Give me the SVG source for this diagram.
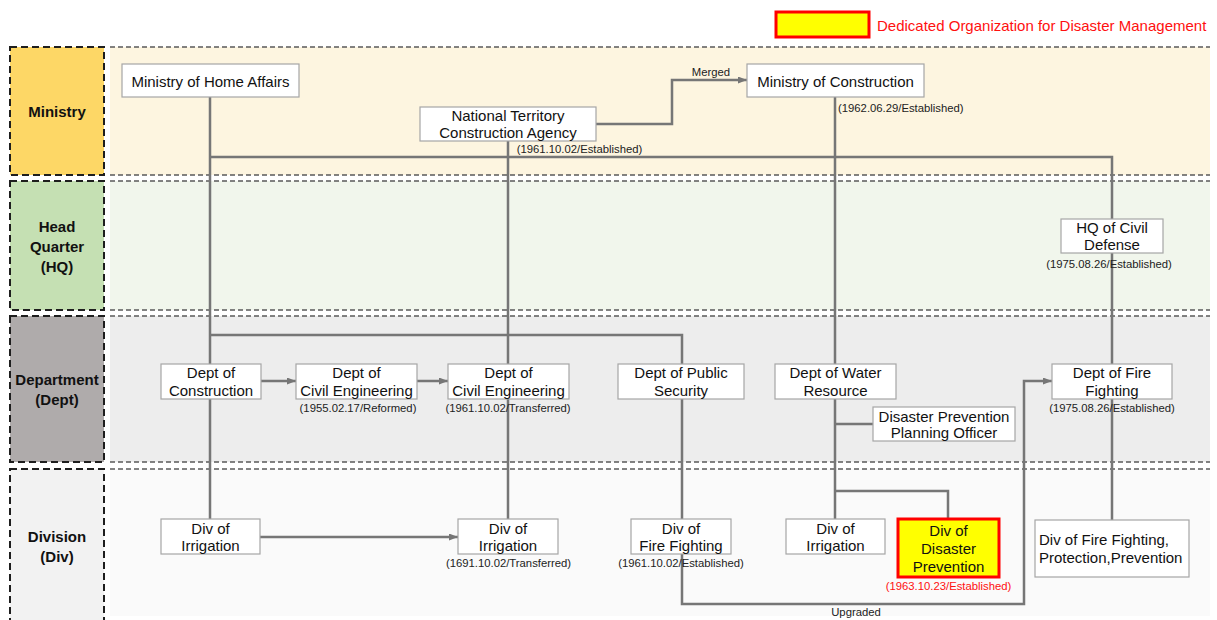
<svg xmlns="http://www.w3.org/2000/svg" width="1217" height="620" viewBox="0 0 1217 620">
  <defs>
    <style>
      .band-line { stroke: #5a5a5a; stroke-width: 1.6; stroke-dasharray: 5 3; fill: none; }
      .tier { stroke: #1e1e1e; stroke-width: 2; stroke-dasharray: 7 4; }
      .tier-text { font-family: "Liberation Sans", Arial, sans-serif; font-size: 15px; font-weight: bold; fill: #111; text-anchor: middle; }
      .box { fill: #ffffff; stroke: #a6a6a6; stroke-width: 1.2; }
      .hot { fill: #ffff00; stroke: #ff0000; stroke-width: 3; }
      .lbl { font-family: "Liberation Sans", Arial, sans-serif; font-size: 15px; fill: #111; text-anchor: middle; }
      .date { font-family: "Liberation Sans", Arial, sans-serif; font-size: 11.3px; fill: #222; text-anchor: middle; }
      .start { text-anchor: start; }
      .red { fill: #ff1010; }
      .conn { stroke: #767676; stroke-width: 2.5; fill: none; }
      .arrow { stroke: #767676; stroke-width: 2.5; fill: none; marker-end: url(#ah); }
    </style>
    <marker id="ah" markerUnits="userSpaceOnUse" markerWidth="9" markerHeight="7" refX="9" refY="3.5" orient="auto">
      <path d="M0,0 L9,3.5 L0,7 z" fill="#767676"/>
    </marker>
  </defs>

  <rect width="1217" height="620" fill="#ffffff"/>

  <!-- legend -->
  <g id="legend">
    <rect x="776" y="12" width="93" height="25" class="hot" stroke-width="2.5"/>
    <text x="877" y="31" font-family="Liberation Sans, Arial, sans-serif" font-size="15" fill="#ff1010">Dedicated Organization for Disaster Management</text>
  </g>

  <!-- tier bands -->
  <g id="bands">
    <rect x="110" y="47" width="1100" height="128" fill="#fdf5e0"/>
    <rect x="110" y="181" width="1100" height="129" fill="#f1f6ec"/>
    <rect x="110" y="316" width="1100" height="146" fill="#ededed"/>
    <rect x="110" y="469" width="1100" height="147" fill="#fafafa"/>
    <path class="band-line" d="M110,47 H1210 M110,175 H1210 M110,181 H1210 M110,310 H1210 M110,316 H1210 M110,462 H1210 M110,469 H1210"/>
  </g>

  <!-- tier labels -->
  <g id="tier-ministry">
    <rect x="10" y="47" width="94" height="128" fill="#fdd766" class="tier"/>
    <text class="tier-text" x="57" y="117">Ministry</text>
  </g>
  <g id="tier-hq">
    <rect x="10" y="181" width="94" height="129" fill="#c5e0b3" class="tier"/>
    <text class="tier-text" x="57" y="232">Head</text>
    <text class="tier-text" x="57" y="252">Quarter</text>
    <text class="tier-text" x="57" y="272">(HQ)</text>
  </g>
  <g id="tier-dept">
    <rect x="10" y="316" width="94" height="146" fill="#afabab" class="tier"/>
    <text class="tier-text" x="57" y="385">Department</text>
    <text class="tier-text" x="57" y="405">(Dept)</text>
  </g>
  <g id="tier-div">
    <rect x="10" y="469" width="94" height="160" fill="#f2f2f2" class="tier"/>
    <text class="tier-text" x="57" y="542">Division</text>
    <text class="tier-text" x="57" y="562">(Div)</text>
  </g>

  <!-- connectors -->
  <g id="connectors">
    <path class="conn" d="M210,97 V519"/>
    <path class="conn" d="M210,157 H1112 V520"/>
    <path class="arrow" d="M210,335 H682 V604 H1024 V381 H1052"/>
    <path class="conn" d="M508,141 V519"/>
    <path class="arrow" d="M596,124 H672 V80 H747"/>
    <path class="conn" d="M835,97 V519"/>
    <path class="conn" d="M835,424 H873"/>
    <path class="conn" d="M835,491 H948 V519"/>
    <path class="arrow" d="M261,381 H296"/>
    <path class="arrow" d="M417,381 H448"/>
    <path class="arrow" d="M260,537 H458"/>
    <text class="date" x="711" y="76">Merged</text>
    <text class="date" x="856" y="616">Upgraded</text>
  </g>

  <!-- ministry tier -->
  <g id="ministry-home-affairs">
    <rect class="box" x="122" y="64" width="177" height="33"/>
    <text class="lbl" x="210.5" y="87">Ministry of Home Affairs</text>
  </g>
  <g id="national-territory-agency">
    <rect class="box" x="420" y="107" width="176" height="34"/>
    <text class="lbl" x="508" y="121">National Territory</text>
    <text class="lbl" x="508" y="138">Construction Agency</text>
    <text class="date" x="579.5" y="153">(1961.10.02/Established)</text>
  </g>
  <g id="ministry-construction">
    <rect class="box" x="747" y="64" width="177" height="33"/>
    <text class="lbl" x="835.5" y="87">Ministry of Construction</text>
    <text class="date start" x="838" y="112">(1962.06.29/Established)</text>
  </g>

  <!-- headquarter tier -->
  <g id="hq-civil-defense">
    <rect class="box" x="1061" y="219" width="102" height="34"/>
    <text class="lbl" x="1112" y="233">HQ of Civil</text>
    <text class="lbl" x="1112" y="250">Defense</text>
    <text class="date" x="1109" y="268">(1975.08.26/Established)</text>
  </g>

  <!-- department tier -->
  <g id="dept-construction">
    <rect class="box" x="161" y="364" width="100" height="35"/>
    <text class="lbl" x="211" y="378">Dept of</text>
    <text class="lbl" x="211" y="396">Construction</text>
  </g>
  <g id="dept-civil-eng-1955">
    <rect class="box" x="296" y="364" width="121" height="35"/>
    <text class="lbl" x="356.5" y="378">Dept of</text>
    <text class="lbl" x="356.5" y="396">Civil Engineering</text>
    <text class="date" x="358" y="412">(1955.02.17/Reformed)</text>
  </g>
  <g id="dept-civil-eng-1961">
    <rect class="box" x="448" y="364" width="121" height="35"/>
    <text class="lbl" x="508.5" y="378">Dept of</text>
    <text class="lbl" x="508.5" y="396">Civil Engineering</text>
    <text class="date" x="508" y="412">(1961.10.02/Transferred)</text>
  </g>
  <g id="dept-public-security">
    <rect class="box" x="618" y="364" width="126" height="35"/>
    <text class="lbl" x="681" y="378">Dept of Public</text>
    <text class="lbl" x="681" y="396">Security</text>
  </g>
  <g id="dept-water-resource">
    <rect class="box" x="775" y="364" width="121" height="35"/>
    <text class="lbl" x="835.5" y="378">Dept of Water</text>
    <text class="lbl" x="835.5" y="396">Resource</text>
  </g>
  <g id="disaster-planning-officer">
    <rect class="box" x="873" y="407" width="142" height="34"/>
    <text class="lbl" x="944" y="422">Disaster Prevention</text>
    <text class="lbl" x="944" y="438">Planning Officer</text>
  </g>
  <g id="dept-fire-fighting">
    <rect class="box" x="1052" y="364" width="120" height="35"/>
    <text class="lbl" x="1112" y="378">Dept of Fire</text>
    <text class="lbl" x="1112" y="396">Fighting</text>
    <text class="date" x="1112" y="412">(1975.08.26/Established)</text>
  </g>

  <!-- division tier -->
  <g id="div-irrigation-a">
    <rect class="box" x="161" y="519" width="99" height="35"/>
    <text class="lbl" x="210.5" y="534">Div of</text>
    <text class="lbl" x="210.5" y="551">Irrigation</text>
  </g>
  <g id="div-irrigation-b">
    <rect class="box" x="458" y="519" width="100" height="35"/>
    <text class="lbl" x="508" y="534">Div of</text>
    <text class="lbl" x="508" y="551">Irrigation</text>
    <text class="date" x="508.5" y="567">(1691.10.02/Transferred)</text>
  </g>
  <g id="div-fire-fighting">
    <rect class="box" x="631" y="519" width="100" height="35"/>
    <text class="lbl" x="681" y="534">Div of</text>
    <text class="lbl" x="681" y="551">Fire Fighting</text>
    <text class="date" x="681" y="567">(1961.10.02/Established)</text>
  </g>
  <g id="div-irrigation-c">
    <rect class="box" x="786" y="519" width="99" height="35"/>
    <text class="lbl" x="835.5" y="534">Div of</text>
    <text class="lbl" x="835.5" y="551">Irrigation</text>
  </g>
  <g id="div-disaster-prevention">
    <rect class="hot" x="898" y="519" width="101" height="58"/>
    <text class="lbl" x="948.5" y="536">Div of</text>
    <text class="lbl" x="948.5" y="554">Disaster</text>
    <text class="lbl" x="948.5" y="572">Prevention</text>
    <text class="date red" x="948.5" y="590">(1963.10.23/Established)</text>
  </g>
  <g id="div-fire-protection">
    <rect class="box" x="1035" y="520" width="154" height="57"/>
    <text class="lbl start" x="1039" y="545">Div of Fire Fighting,</text>
    <text class="lbl start" x="1039" y="563">Protection,Prevention</text>
  </g>
</svg>
